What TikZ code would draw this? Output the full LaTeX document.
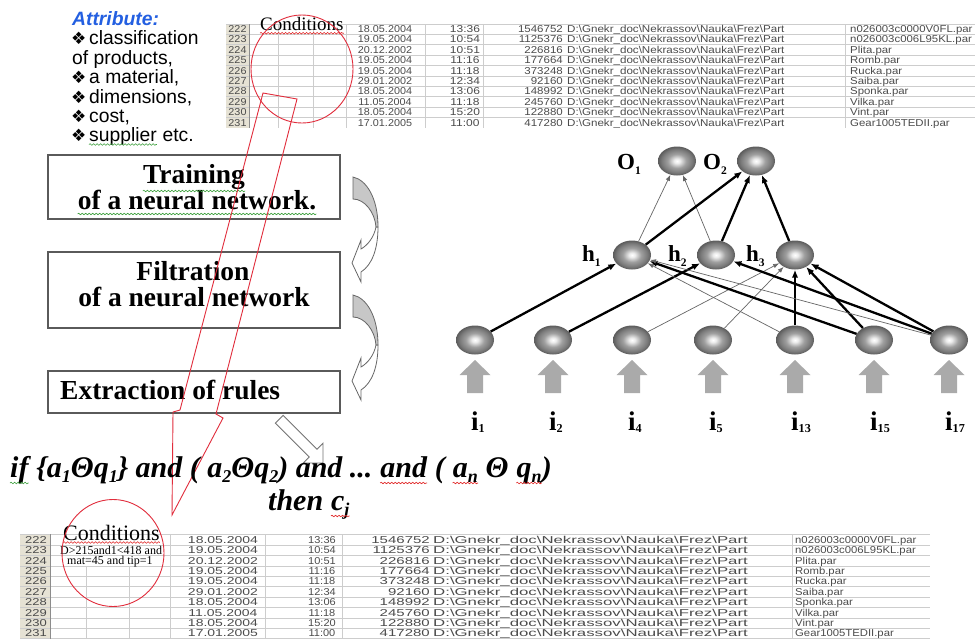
\documentclass[tikz,border=0pt]{standalone}
\usepackage{fontspec}
\usepackage{graphicx}
\setmainfont{Liberation Serif}
\newfontfamily\arialf{Liberation Sans}
\newfontfamily\djvf{DejaVu Sans}
\usetikzlibrary{shapes.geometric,arrows.meta,decorations.pathmorphing}

\definecolor{attrblue}{RGB}{35,95,225}
\definecolor{gridc}{RGB}{205,205,205}
\definecolor{hdrbg}{RGB}{230,226,212}
\definecolor{tabtxt}{RGB}{75,75,75}
\definecolor{redl}{RGB}{225,45,60}
\definecolor{wred}{RGB}{225,40,40}
\definecolor{wgreen}{RGB}{60,160,60}
\definecolor{boxedge}{RGB}{90,90,90}
\definecolor{arrgray}{RGB}{170,170,170}

\pgfdeclareradialshading{sphere}{\pgfpoint{0bp}{0bp}}{color(0bp)=(white); color(4bp)=(white!85!gray); color(12bp)=(gray!75); color(20bp)=(black!52); color(25bp)=(black!64); color(50bp)=(black!64)}

\newcommand\sbs[1]{\raisebox{-0.18em}{\scalebox{0.6}{#1}}}
\newcommand\hsb[1]{\raisebox{-0.24em}{\scalebox{0.5}{#1}}}
\newcommand\isb[1]{\raisebox{-0.08em}{\scalebox{0.45}{#1}}}
\newcommand\pathtxt{D:\textbackslash Gnekr\_doc\textbackslash Nekrassov\textbackslash Nauka\textbackslash Frez\textbackslash Part}

\tikzset{
  ttxt/.style={inner sep=0pt, text=tabtxt, font=\arialf\fontsize{10}{10}\selectfont},
  stepbox/.style={draw=boxedge, line width=1.1pt, fill=white, inner sep=0pt},
  boxtxt/.style={inner sep=0pt, font=\bfseries\fontsize{27.5}{27.5}\selectfont},
  attr/.style={inner sep=0pt, anchor=base west, font=\arialf\fontsize{19.3}{19.3}\selectfont},
  bul/.style={inner sep=0pt, anchor=base west, font=\djvf\fontsize{17}{17}\selectfont},
  neuron/.style={ellipse, minimum width=38pt, minimum height=29pt, inner sep=0pt, shading=sphere},
  thk/.style={line width=2.3pt, draw=black, -{Latex[length=8pt,width=6.5pt]}},
  thn/.style={line width=0.7pt, draw=black!60, -{Latex[length=6pt,width=4.5pt]}},
  nlab/.style={inner sep=0pt, anchor=base west, font=\bfseries\fontsize{23}{23}\selectfont},
  ilab/.style={inner sep=0pt, anchor=base west, font=\bfseries\fontsize{27}{27}\selectfont},
  formula/.style={inner sep=0pt, anchor=base west, font=\bfseries\itshape\fontsize{30}{30}\selectfont},
  cond/.style={inner sep=0pt, anchor=base west, font=\fontsize{19}{19}\selectfont},
  ctxt/.style={inner sep=0pt, anchor=base west, font=\fontsize{12}{12}\selectfont},
  redsel/.style={draw=redl, line width=0.9pt, ellipse, inner sep=0pt},
  uparr/.style={fill=arrgray, draw=none},
  wavy/.style={decorate, decoration={snake, amplitude=0.8pt, segment length=3.5pt}, line width=0.6pt},
  curvarr/.pic={
    \draw[fill=white, draw=black!60, line width=0.8pt] (25,50) .. controls (25,72) and (19,88) .. (8,95) -- (8,105) -- (-1,86) -- (8,63) -- (8,72) .. controls (15,68) and (21,60) .. (23,50) -- cycle;
    \draw[fill=black!22, draw=black!60, line width=0.8pt] (0,0) .. controls (14,3) and (25,22) .. (25,50) -- (23,50) .. controls (22,36) and (12,22) .. (0,22) -- cycle;
  }
}

\begin{document}
\begin{tikzpicture}[x=1pt,y=-1pt]
\useasboundingbox (0,0) rectangle (975,638);
\fill[white] (0,0) rectangle (975,638);

% ---------- top table ----------
\begin{scope}
 \clip (226,24) rectangle (975,127);
 \fill[hdrbg] (226,20) rectangle (249,130);
 \foreach \k in {0,...,10} \draw[gridc, line width=0.6pt] (226,{23.8+10.4*\k}) -- (975,{23.8+10.4*\k});
 \foreach \xx in {278,313,346,425,483,845} \draw[gridc, line width=0.6pt] (\xx,20) -- (\xx,130);
 \draw[black!45, line width=0.6pt] (249,20) -- (249,130);
 \foreach \cA/\cB/\cC/\cD/\cE [count=\k from 0] in {
  222/18.05.2004/13:36/1546752/n026003c0000V0FL.par,
  223/19.05.2004/10:54/1125376/n026003c006L95KL.par,
  224/20.12.2002/10:51/226816/Plita.par,
  225/19.05.2004/11:16/177664/Romb.par,
  226/19.05.2004/11:18/373248/Rucka.par,
  227/29.01.2002/12:34/92160/Saiba.par,
  228/18.05.2004/13:06/148992/Sponka.par,
  229/11.05.2004/11:18/245760/Vilka.par,
  230/18.05.2004/15:20/122880/Vint.par,
  231/17.01.2005/11:00/417280/Gear1005TEDII.par} {
   \node[ttxt, anchor=base] (tn\cA) at (237.5,{32.5+10.4*\k}) {\scalebox{1.08}[1]{\cA}};
   \node[ttxt, anchor=base] (td\cA) at (385,{32.5+10.4*\k}) {\scalebox{1.08}[1]{\cB}};
   \node[ttxt, anchor=base] (tt\cA) at (465,{32.5+10.4*\k}) {\scalebox{1.2}[1]{\cC}};
   \node[ttxt, anchor=base east] (ts\cA) at (563,{32.5+10.4*\k}) {\scalebox{1.15}[1]{\cD}};
   \node[ttxt, anchor=base west] (tp\cA) at (567,{32.5+10.4*\k}) {\scalebox{1.16}[1]{\pathtxt}};
   \node[ttxt, anchor=base west] (tf\cA) at (850,{32.5+10.4*\k}) {\scalebox{1.14}[1]{\cE}};
 }
\end{scope}
\node[cond] (condT) at (260,30.7) {Conditions};
\draw[wavy, wred] ([yshift=-2.5pt]condT.base west) -- ([yshift=-2.5pt]condT.base east);

% ---------- bottom table ----------
\begin{scope}
 \clip (20,534.5) rectangle (930,638);
 \fill[hdrbg] (20,530) rectangle (50,640);
 \foreach \k in {0,...,10} \draw[gridc, line width=0.6pt] (20,{534.7+10.4*\k}) -- (930,{534.7+10.4*\k});
 \foreach \xx in {170,265,342,792} \draw[gridc, line width=0.6pt] (\xx,530) -- (\xx,640);
 \foreach \xx in {86,129} \draw[gridc, line width=0.6pt] (\xx,565.9) -- (\xx,640);
 \draw[black!45, line width=0.6pt] (50,530) -- (50,640);
 \foreach \cA/\cB/\cC/\cD/\cE [count=\k from 0] in {
  222/18.05.2004/13:36/1546752/n026003c0000V0FL.par,
  223/19.05.2004/10:54/1125376/n026003c006L95KL.par,
  224/20.12.2002/10:51/226816/Plita.par,
  225/19.05.2004/11:16/177664/Romb.par,
  226/19.05.2004/11:18/373248/Rucka.par,
  227/29.01.2002/12:34/92160/Saiba.par,
  228/18.05.2004/13:06/148992/Sponka.par,
  229/11.05.2004/11:18/245760/Vilka.par,
  230/18.05.2004/15:20/122880/Vint.par,
  231/17.01.2005/11:00/417280/Gear1005TEDII.par} {
   \node[ttxt, anchor=base west] (bn\cA) at (25,{543.3+10.4*\k}) {\scalebox{1.3}[1]{\cA}};
   \node[ttxt, anchor=base] (bd\cA) at (223,{543.3+10.4*\k}) {\scalebox{1.4}[1]{\cB}};
   \node[ttxt, anchor=base] (bt\cA) at (322,{543.3+10.4*\k}) {\scalebox{1.1}[1]{\cC}};
   \node[ttxt, anchor=base east] (bs\cA) at (430,{543.3+10.4*\k}) {\scalebox{1.5}[1]{\cD}};
   \node[ttxt, anchor=base west] (bp\cA) at (433,{543.3+10.4*\k}) {\scalebox{1.68}[1]{\pathtxt}};
   \node[ttxt, anchor=base west] (bf\cA) at (795,{543.3+10.4*\k}) {\scalebox{1.13}[1]{\cE}};
 }
\end{scope}
\node[cond, font=\fontsize{22}{22}\selectfont] (condB) at (63,540) {Conditions};
\draw[wavy, wred] ([yshift=-2.5pt]condB.base west) -- ([yshift=-2.5pt]condB.base east);
\node[ctxt] (cnd1) at (60,554) {D>215and1<418 and};
\node[ctxt] (cnd2) at (67,564.5) {mat=45 and tip=1};

% ---------- attributes ----------
\node[attr, text=attrblue, font=\arialf\bfseries\itshape\fontsize{19.3}{19.3}\selectfont] (attrT) at (72,25) {Attribute:};
\node[bul] (bu1) at (71,44.5) {❖};
\node[attr] (at1) at (89,44.5) {classification};
\node[attr] (at1b) at (72,64) {of products,};
\node[bul] (bu2) at (71,83.5) {❖};
\node[attr] (at2) at (89,83.5) {a material,};
\node[bul] (bu3) at (71,103) {❖};
\node[attr] (at3) at (89,103) {dimensions,};
\node[bul] (bu4) at (71,122) {❖};
\node[attr] (at4) at (89,122) {cost,};
\node[bul] (bu5) at (71,141.5) {❖};
\node[attr] (at5) at (89,141.5) {supplier};
\node[attr] (at5b) at (at5.base east) {\ etc.};
\draw[wavy, wgreen] ([yshift=-3pt]at5.base west) -- ([yshift=-3pt]at5.base east);

% ---------- process boxes ----------
\node[stepbox, minimum width=292pt, minimum height=64pt] (train) at (194,187) {};
\node[boxtxt, anchor=base] (trainA) at (194,183) {Training};
\node[boxtxt, anchor=base] (trainB) at (197,209) {of a neural network.};
\draw[wavy, wgreen] ([yshift=-8pt]trainA.base west) -- ([yshift=-8pt]trainA.base east);
\draw[wavy, wgreen] ([yshift=-5pt]trainB.base west) -- ([yshift=-5pt]trainB.base east);
\node[stepbox, minimum width=292pt, minimum height=76pt] (filt) at (194,290) {};
\node[boxtxt, anchor=base] (filtA) at (193,280) {Filtration};
\node[boxtxt, anchor=base] (filtB) at (194,306) {of a neural network};
\node[stepbox, minimum width=292pt, minimum height=42pt] (extr) at (194,392) {};
\node[boxtxt, anchor=base west] (extrA) at (60,399) {Extraction of rules};

\pic (carr1) at (353,177) {curvarr};
\pic (carr2) at (353,295) {curvarr};

% ---------- red selection ----------
\node[redsel, minimum width=102pt, minimum height=108pt] (selT) at (302,69) {};
\node[redsel, minimum width=102pt, minimum height=107pt] (selB) at (113,553) {};
\coordinate (ra1) at (263,93);
\coordinate (ra2) at (297,99);
\coordinate (ra3) at (216,414);
\coordinate (ra4) at (223,418);
\coordinate (ra5) at (172,515);
\coordinate (ra6) at (173,412);
\coordinate (ra7) at (180,410);
\draw[redl, line width=0.9pt] (ra1) -- (ra2) -- (ra3) -- (ra4) -- (ra5) -- (ra6) -- (ra7) -- cycle;

% ---------- hollow arrow ----------
\draw[fill=white, draw=black!55, line width=0.9pt] (275.3,423.1) -- (309.2,457.0) -- (303.2,463.0) -- (323,463) -- (323,443.2) -- (317.0,449.2) -- (283.1,415.3) -- cycle;

% ---------- formula ----------
\node[formula] (f1) at (10,477) {if};
\node[formula] (f2) at (f1.base east) {\ \{a\sbs{1}Θq\sbs{1}\} and ( a\sbs{2}Θq\sbs{2}) and ...\ \null};
\node[formula] (f3) at (f2.base east) {and};
\node[formula] (f4) at (f3.base east) {\ ( \null};
\node[formula] (f5) at (f4.base east) {a\sbs{n}};
\node[formula] (f6) at (f5.base east) {\ Θ \null};
\node[formula] (f7) at (f6.base east) {q\sbs{n}};
\node[formula] (f8) at (f7.base east) {)};
\node[formula] (g1) at (268,510) {then\ \null};
\node[formula] (g2) at (g1.base east) {c\sbs{j}};
\foreach \w/\cl in {f1/wgreen,f3/wred,f5/wred,f7/wred,g2/wred}
  \draw[wavy, \cl] ([yshift=-6pt]\w.base west) -- ([yshift=-6pt]\w.base east);

% ---------- neural network ----------
\foreach \nm/\xx in {i1/475,i2/553,i4/632,i5/713,i13/795,i15/874,i17/949} {
  \node[neuron] (\nm) at (\xx,340) {};
  \fill[uparr] ({\xx-8},393) -- ({\xx-8},375) -- ({\xx-15.5},375) -- (\xx,360) -- ({\xx+15.5},375) -- ({\xx+8},375) -- ({\xx+8},393) -- cycle;
}
\foreach \nm/\xx/\ss in {i1/475/1,i2/553/2,i4/632/4,i5/713/5,i13/795/13,i15/874/15,i17/949/17}
  \node[ilab] (l\nm) at ({\xx-4},430) {i\isb{\ss}};
\node[neuron] (h1) at (632,255) {};
\node[neuron] (h2) at (716,255) {};
\node[neuron] (h3) at (795,255) {};
\node[neuron] (o1) at (677,161) {};
\node[neuron] (o2) at (756,161) {};
\node[nlab] (lo1) at (617,169) {O\hsb{1}};
\node[nlab] (lo2) at (703,169) {O\hsb{2}};
\node[nlab] (lh1) at (582,261) {h\hsb{1}};
\node[nlab] (lh2) at (668,261) {h\hsb{2}};
\node[nlab] (lh3) at (746,261) {h\hsb{3}};

\draw[thk] (i1) -- (h1);
\draw[thk] (i2) -- (h2);
\draw[thn] (i4) -- (h3);
\draw[thn] (i5) -- (h3);
\draw[thn] (i13) -- (h1);
\draw[thk] (i13) -- (h3);
\draw[thk] (i15) -- (h1);
\draw[thk] (i15) -- (h3);
\draw[thn] (i17) -- (h1);
\draw[thk] (i17) -- (h2);
\draw[thk] (i17) -- (h3);
\draw[thn] (h1) -- (o1);
\draw[thn] (h2) -- (o1);
\draw[thk] (h1) -- (o2);
\draw[thk] (h2) -- (o2);
\draw[thk] (h3) -- (o2);
\end{tikzpicture}
\end{document}
